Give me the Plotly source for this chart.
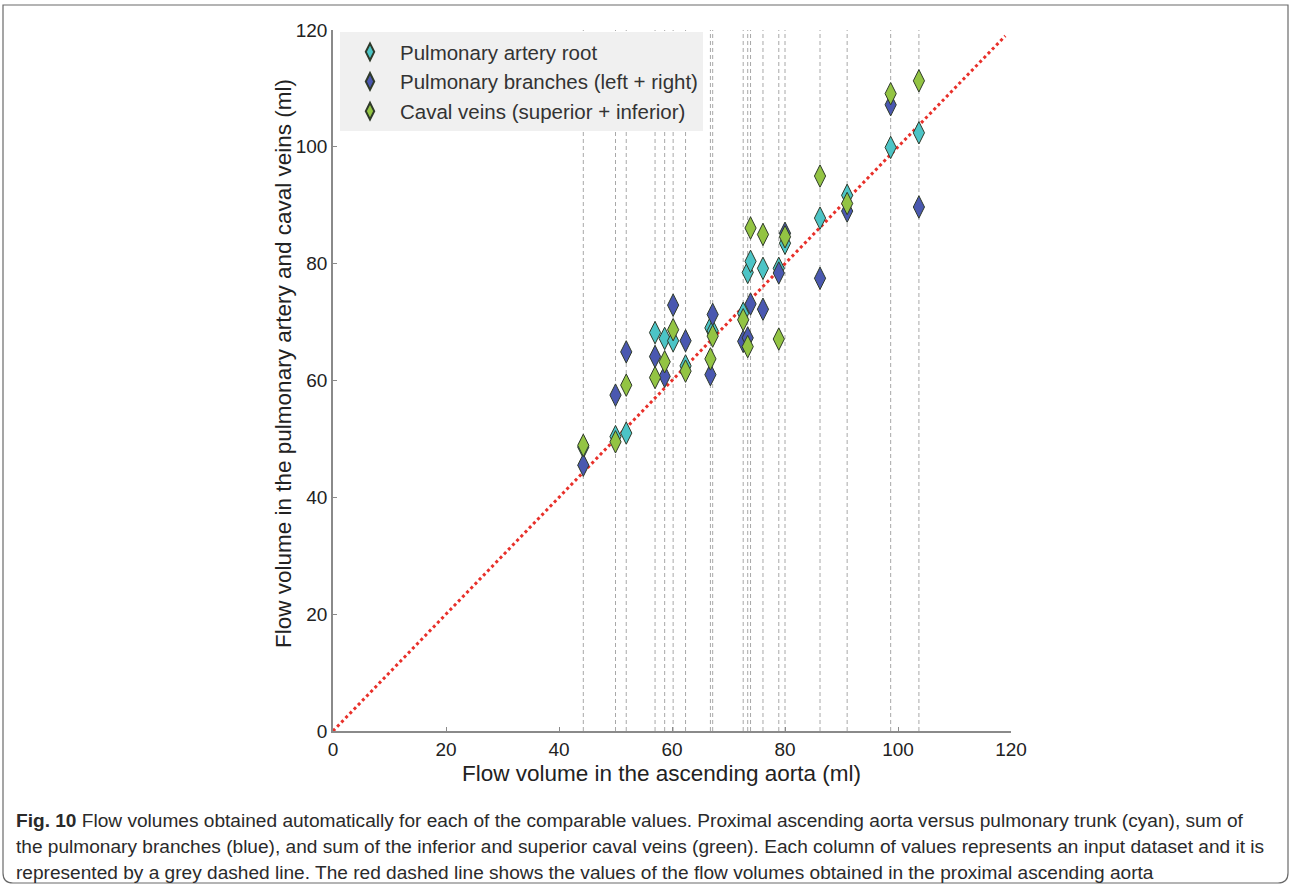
import plotly.graph_objects as go

# ---- data ----
aorta = [44.3, 50.0, 51.9, 57.0, 58.7, 60.2, 62.4, 66.8, 67.2, 72.6, 73.4, 73.9,
         76.1, 78.9, 80.0, 86.2, 91.0, 98.7, 103.7]
pulmonary_root = [48.6, 50.4, 51.0, 68.2, 67.2, 66.8, 62.5, 69.0, 68.5, 71.5, 78.5, 80.4,
                  79.2, 79.2, 83.5, 87.8, 91.7, 99.9, 102.4]
pulmonary_branches = [45.5, 57.5, 64.9, 64.1, 60.7, 72.9, 66.8, 61.0, 71.3, 66.7, 67.3, 73.1,
                      72.2, 78.4, 85.2, 77.5, 89.0, 107.2, 89.7]
caval_veins = [48.9, 49.5, 59.2, 60.5, 63.2, 68.7, 61.6, 63.7, 67.6, 70.4, 65.8, 86.1,
               85.0, 67.1, 84.6, 95.0, 90.3, 109.1, 111.3]
series_names = ["Pulmonary artery root", "Pulmonary branches (left + right)",
                "Caval veins (superior + inferior)"]
identity_range = [0, 119]
tick_values = [0, 20, 40, 60, 80, 100, 120]

x_title = "Flow volume in the ascending aorta (ml)"
y_title = "Flow volume in the pulmonary artery and caval veins (ml)"
caption_lines = [
    "<b>Fig. 10</b> Flow volumes obtained automatically for each of the comparable values. Proximal ascending aorta versus pulmonary trunk (cyan), sum of",
    "the pulmonary branches (blue), and sum of the inferior and superior caval veins (green). Each column of values represents an input dataset and it is",
    "represented by a grey dashed line. The red dashed line shows the values of the flow volumes obtained in the proximal ascending aorta",
]

colors = ["#4cc4c6", "#4a58b0", "#93c443"]

W, H = 1291, 887
L, R, T, B = 333, 280, 30, 156
PW, PH = W - L - R, H - T - B

def px(x):
    return (x - L) / PW

def py(y):
    return (H - B - y) / PH

fig = go.Figure()

# grey dashed column lines (one per dataset)
vx, vy = [], []
for a in aorta:
    vx += [a, a, None]
    vy += [0, 120, None]
fig.add_trace(go.Scatter(x=vx, y=vy, mode="lines", showlegend=False, hoverinfo="skip",
                         line=dict(color="#a8a8a8", width=1, dash="4px,3px")))

# red identity line
fig.add_trace(go.Scatter(x=identity_range, y=identity_range, mode="lines", showlegend=False,
                         line=dict(color="#e8302a", width=3, dash="dot")))

for name, vals, col in zip(series_names, [pulmonary_root, pulmonary_branches, caval_veins], colors):
    fig.add_trace(go.Scatter(x=aorta, y=vals, mode="markers", name=name,
                             marker=dict(symbol="diamond-tall", size=16, color=col,
                                         line=dict(color="#2f3a2a", width=1))))

FAM = "Liberation Sans, Arial, sans-serif"
axis_font = dict(family=FAM, size=19, color="#222")
title_font = dict(family=FAM, size=22.5, color="#222")
fig.update_xaxes(range=[0, 120], tickvals=tick_values, showgrid=False, zeroline=False,
                 showline=True, linecolor="#8a8a8a", linewidth=1.5, ticks="inside",
                 ticklen=4, tickcolor="#8a8a8a", tickfont=axis_font)
fig.update_yaxes(range=[0, 120], tickvals=tick_values, showgrid=False, zeroline=False,
                 showline=True, linecolor="#8a8a8a", linewidth=1.5, ticks="inside",
                 ticklen=4, tickcolor="#8a8a8a", tickfont=axis_font)

fig.update_layout(
    width=W, height=H, autosize=False,
    margin=dict(l=L, r=R, t=T, b=B),
    paper_bgcolor="white", plot_bgcolor="white",
    legend=dict(x=px(340), y=py(32), xanchor="left", yanchor="top",
                bgcolor="#f0f0f0", borderwidth=0, itemwidth=50,
                font=dict(family=FAM, size=20.5, color="#333"),
                itemsizing="constant", tracegroupgap=0),
    showlegend=True,
)

# axis titles
fig.add_annotation(text=x_title, xref="paper", yref="paper", x=px(661), y=py(773),
                   xanchor="center", yanchor="middle", showarrow=False, font=title_font)
fig.add_annotation(text=y_title, xref="paper", yref="paper", x=px(283), y=py(364),
                   xanchor="center", yanchor="middle", showarrow=False, font=title_font,
                   textangle=-90)

# frame around the figure
x0, x1, y0, y1, r = px(3), px(1288), py(5), py(883), 10
rx, ry = r / PW, r / PH
path = (f"M {x0} {y0} L {x1} {y0} L {x1} {y1+ry} Q {x1} {y1} {x1-rx} {y1} "
        f"L {x0+rx} {y1} Q {x0} {y1} {x0} {y1+ry} Z")
fig.add_shape(type="path", path=path, xref="paper", yref="paper",
              line=dict(color="#6a6a6a", width=1.2), fillcolor="rgba(0,0,0,0)", layer="below")

cap_font = dict(family=FAM, size=19.1, color="#2a2a2a")
for i, line in enumerate(caption_lines):
    fig.add_annotation(text=line, xref="paper", yref="paper", x=px(14), y=py(820 + 26 * i),
                       xanchor="left", yanchor="middle", showarrow=False, font=cap_font, align="left")

fig.write_html("out.html")
